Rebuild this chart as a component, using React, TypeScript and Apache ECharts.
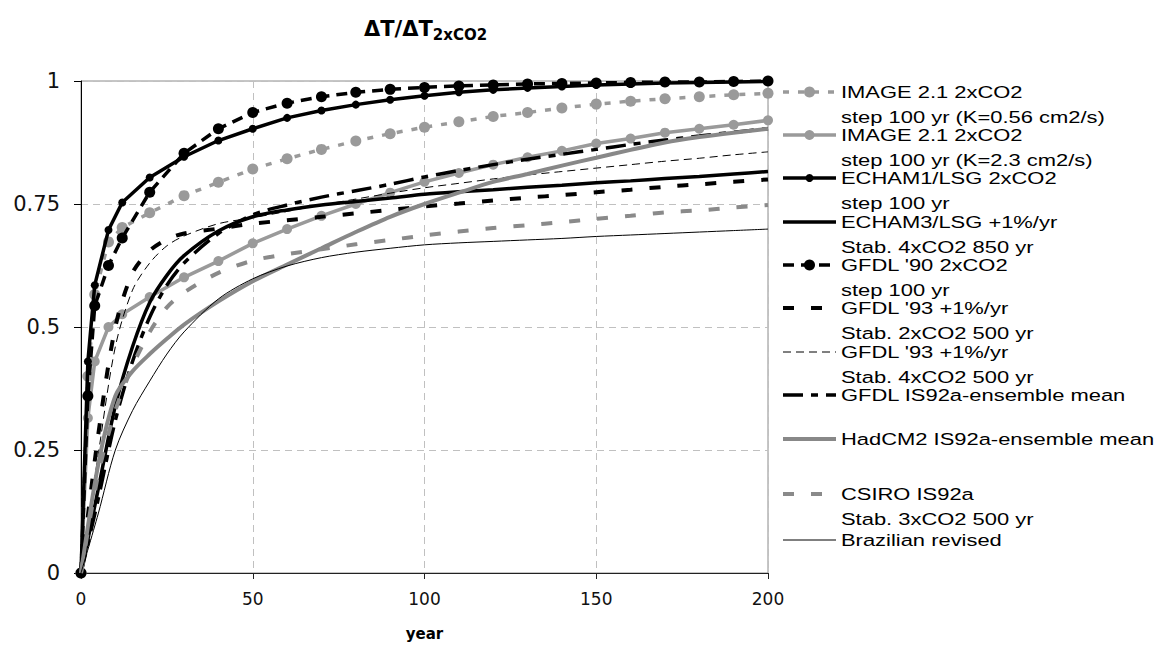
import React, { useEffect, useRef } from 'react';
import * as echarts from 'echarts';

// ---- data ----
const YEARS_MARK = [0, 2, 4, 8, 12, 20, 30, 40, 50, 60, 70, 80, 90, 100, 110, 120, 130, 140, 150, 160, 170, 180, 190, 200];
const YEARS_SMOOTH = [0, 5, 10, 15, 20, 25, 30, 40, 50, 60, 70, 80, 90, 100, 110, 120, 130, 140, 150, 160, 170, 180, 190, 200];

const IMAGE_K056 = [0, 0.4, 0.566, 0.673, 0.702, 0.732, 0.767, 0.794, 0.821, 0.842, 0.861, 0.878, 0.893, 0.906, 0.917, 0.928, 0.936, 0.945, 0.953, 0.959, 0.964, 0.968, 0.972, 0.975];
const IMAGE_K23 = [0, 0.315, 0.43, 0.5, 0.526, 0.561, 0.601, 0.634, 0.67, 0.699, 0.726, 0.75, 0.773, 0.795, 0.813, 0.83, 0.845, 0.858, 0.873, 0.883, 0.895, 0.903, 0.911, 0.92];
const ECHAM1 = [0, 0.43, 0.585, 0.697, 0.753, 0.804, 0.846, 0.879, 0.903, 0.925, 0.94, 0.952, 0.962, 0.97, 0.977, 0.982, 0.986, 0.989, 0.992, 0.994, 0.996, 0.997, 0.998, 0.999];
const GFDL90 = [0, 0.36, 0.543, 0.625, 0.681, 0.774, 0.853, 0.903, 0.936, 0.955, 0.968, 0.977, 0.983, 0.987, 0.99, 0.992, 0.994, 0.995, 0.996, 0.997, 0.998, 0.998, 0.999, 1.0];

const ECHAM3 = [0, 0.17, 0.34, 0.46, 0.55, 0.605, 0.645, 0.695, 0.724, 0.738, 0.748, 0.755, 0.762, 0.77, 0.775, 0.779, 0.784, 0.788, 0.793, 0.797, 0.802, 0.806, 0.811, 0.816];
const GFDL93_2X = [0, 0.28, 0.5, 0.61, 0.655, 0.678, 0.69, 0.7, 0.71, 0.717, 0.724, 0.731, 0.738, 0.745, 0.751, 0.757, 0.763, 0.768, 0.774, 0.779, 0.785, 0.79, 0.795, 0.8];
const GFDL93_4X = [0, 0.24, 0.46, 0.575, 0.63, 0.665, 0.685, 0.71, 0.722, 0.735, 0.748, 0.76, 0.772, 0.783, 0.792, 0.801, 0.809, 0.816, 0.823, 0.83, 0.837, 0.843, 0.85, 0.856];
const GFDL_IS92A = [0, 0.15, 0.31, 0.43, 0.52, 0.585, 0.63, 0.69, 0.728, 0.748, 0.764, 0.777, 0.79, 0.805, 0.818, 0.83, 0.841, 0.851, 0.861, 0.871, 0.88, 0.888, 0.896, 0.903];
const HADCM2 = [0, 0.22, 0.36, 0.41, 0.445, 0.476, 0.505, 0.552, 0.593, 0.627, 0.66, 0.693, 0.724, 0.75, 0.773, 0.795, 0.811, 0.828, 0.844, 0.86, 0.875, 0.886, 0.895, 0.903];
const CSIRO = [0, 0.2, 0.33, 0.42, 0.49, 0.54, 0.57, 0.61, 0.635, 0.648, 0.658, 0.668, 0.677, 0.686, 0.694, 0.701, 0.707, 0.713, 0.72, 0.726, 0.733, 0.737, 0.743, 0.748];
const BRAZIL = [0, 0.12, 0.25, 0.33, 0.39, 0.445, 0.49, 0.557, 0.598, 0.624, 0.641, 0.652, 0.66, 0.667, 0.671, 0.674, 0.677, 0.68, 0.684, 0.687, 0.69, 0.693, 0.696, 0.699];

const NAMES_LINE1 = [
  'IMAGE 2.1 2xCO2',
  'IMAGE 2.1 2xCO2',
  'ECHAM1/LSG 2xCO2',
  'ECHAM3/LSG +1%/yr',
  "GFDL '90 2xCO2",
  "GFDL '93 +1%/yr",
  "GFDL '93 +1%/yr",
  'GFDL IS92a-ensemble mean',
  'HadCM2 IS92a-ensemble mean',
  'CSIRO IS92a',
  'Brazilian revised',
];
const NAMES_LINE2 = [
  'step 100 yr (K=0.56 cm2/s)',
  'step 100 yr (K=2.3 cm2/s)',
  'step 100 yr',
  'Stab. 4xCO2 850 yr',
  'step 100 yr',
  'Stab. 2xCO2 500 yr',
  'Stab. 4xCO2 500 yr',
  '',
  '',
  'Stab. 3xCO2 500 yr',
  '',
];
const X_TICKS = [0, 50, 100, 150, 200];
const Y_TICKS = [0, 0.25, 0.5, 0.75, 1];

// ---- styles ----
const FONT = 'DejaVu Sans';
const LEGEND_FONT = 'Liberation Sans';
type Sty = { years: number[]; values: number[]; color: string; width: number; dash: number[] | 'solid'; symbolSize: number; smooth: boolean };
const STYLES: Sty[] = [
  { years: YEARS_MARK, values: IMAGE_K056, color: '#9a9a9a', width: 3.5, dash: [6, 9], symbolSize: 11, smooth: false },
  { years: YEARS_MARK, values: IMAGE_K23, color: '#9a9a9a', width: 3.5, dash: 'solid', symbolSize: 10, smooth: false },
  { years: YEARS_MARK, values: ECHAM1, color: '#000000', width: 3.5, dash: 'solid', symbolSize: 8, smooth: false },
  { years: YEARS_SMOOTH, values: ECHAM3, color: '#000000', width: 3.5, dash: 'solid', symbolSize: 0, smooth: true },
  { years: YEARS_MARK, values: GFDL90, color: '#000000', width: 3.5, dash: [11, 7], symbolSize: 11, smooth: false },
  { years: YEARS_SMOOTH, values: GFDL93_2X, color: '#000000', width: 4, dash: [11, 17], symbolSize: 0, smooth: true },
  { years: YEARS_SMOOTH, values: GFDL93_4X, color: '#000000', width: 1, dash: [8, 5], symbolSize: 0, smooth: true },
  { years: YEARS_SMOOTH, values: GFDL_IS92A, color: '#000000', width: 3.5, dash: [20, 8, 7, 8], symbolSize: 0, smooth: true },
  { years: YEARS_SMOOTH, values: HADCM2, color: '#888888', width: 4, dash: 'solid', symbolSize: 0, smooth: true },
  { years: YEARS_SMOOTH, values: CSIRO, color: '#8a8a8a', width: 4, dash: [11, 17], symbolSize: 0, smooth: true },
  { years: YEARS_SMOOTH, values: BRAZIL, color: '#000000', width: 1, dash: 'solid', symbolSize: 0, smooth: true },
];
const LEGEND_Y = [92, 135, 178, 222, 265, 308, 352, 395, 439, 494, 540];
const LEGEND_X0 = 783;
const LEGEND_X1 = 836;
const LEGEND_TEXT_X = 841;
const LINE2_OFFSET = 24.5;
const LEGEND_FONT_SIZE = 17;
const LEGEND_STRETCH = 1.29;

function legendText(text: string, y: number) {
  return {
    type: 'text',
    x: LEGEND_TEXT_X,
    y,
    scaleX: LEGEND_STRETCH,
    scaleY: 1,
    style: { text, fontSize: LEGEND_FONT_SIZE, fontFamily: LEGEND_FONT, fill: '#000', verticalAlign: 'middle', align: 'left' },
    z: 12,
  };
}

function buildOption() {
  const series = STYLES.map((s, i) => ({
    type: 'line',
    name: NAMES_LINE1[i] + (NAMES_LINE2[i] ? ' ' + NAMES_LINE2[i] : ''),
    data: s.years.map((y, k) => [y, s.values[k]]),
    showSymbol: s.symbolSize > 0,
    symbol: s.symbolSize > 0 ? 'circle' : 'none',
    symbolSize: s.symbolSize,
    itemStyle: { color: s.color },
    lineStyle: { color: s.color, width: s.width, type: s.dash },
    smooth: s.smooth ? 0.3 : false,
    silent: true,
    z: 2 + i * 0.01,
  }));

  const graphic: any[] = [];
  STYLES.forEach((s, i) => {
    const y = LEGEND_Y[i];
    graphic.push({
      type: 'line',
      shape: { x1: LEGEND_X0, y1: y, x2: LEGEND_X1, y2: y },
      style: { stroke: s.color, lineWidth: s.width, lineDash: s.dash === 'solid' ? null : s.dash },
      z: 10,
    });
    if (s.symbolSize > 0) {
      graphic.push({
        type: 'circle',
        shape: { cx: (LEGEND_X0 + LEGEND_X1) / 2, cy: y, r: s.symbolSize / 2 },
        style: { fill: s.color },
        z: 11,
      });
    }
    graphic.push(legendText(NAMES_LINE1[i], y));
    if (NAMES_LINE2[i]) graphic.push(legendText(NAMES_LINE2[i], y + LINE2_OFFSET));
  });

  return {
    animation: false,
    backgroundColor: '#ffffff',
    title: {
      text: '{a|ΔT/ΔT}{b|2xCO2}',
      left: 364,
      top: 16,
      padding: 0,
      textStyle: {
        rich: {
          a: { fontSize: 21, fontWeight: 'bold', fontFamily: FONT, color: '#000', lineHeight: 26, verticalAlign: 'middle' },
          b: { fontSize: 15, fontWeight: 'bold', fontFamily: FONT, color: '#000', lineHeight: 26, verticalAlign: 'bottom' },
        },
      },
    },
    grid: { left: 81, right: 395, top: 81, bottom: 68, show: true, borderColor: '#8c8c8c', borderWidth: 1, backgroundColor: 'transparent' },
    xAxis: {
      type: 'value',
      min: X_TICKS[0],
      max: X_TICKS[X_TICKS.length - 1],
      interval: X_TICKS[1] - X_TICKS[0],
      name: 'year',
      nameLocation: 'middle',
      nameGap: 53,
      nameTextStyle: { fontSize: 15, fontWeight: 'bold', fontFamily: FONT, color: '#000' },
      axisLine: { show: true, lineStyle: { color: '#222', width: 1 } },
      axisTick: { show: true, length: 6, lineStyle: { color: '#222' } },
      axisLabel: { fontSize: 17, fontFamily: FONT, color: '#111', margin: 17 },
      splitLine: { show: true, lineStyle: { color: '#c0c0c0', type: [7, 5], width: 1 } },
    },
    yAxis: {
      type: 'value',
      min: Y_TICKS[0],
      max: Y_TICKS[Y_TICKS.length - 1],
      interval: Y_TICKS[1] - Y_TICKS[0],
      axisLine: { show: true, lineStyle: { color: '#000', width: 1 } },
      axisTick: { show: true, length: 7, lineStyle: { color: '#000' } },
      axisLabel: { fontSize: 21, fontFamily: FONT, color: '#111', margin: 21 },
      splitLine: { show: true, lineStyle: { color: '#c0c0c0', type: [7, 5], width: 1 } },
    },
    legend: { show: false },
    series,
    graphic,
  };
}

export default function App() {
  const ref = useRef<HTMLDivElement>(null);
  useEffect(() => {
    if (!ref.current) return;
    const chart = echarts.init(ref.current, undefined, { renderer: 'svg' });
    chart.setOption(buildOption() as any);
    return () => chart.dispose();
  }, []);
  return <div ref={ref} style={{ width: 1163, height: 646, position: 'absolute', left: 0, top: 0, overflow: 'hidden' }} />;
}
